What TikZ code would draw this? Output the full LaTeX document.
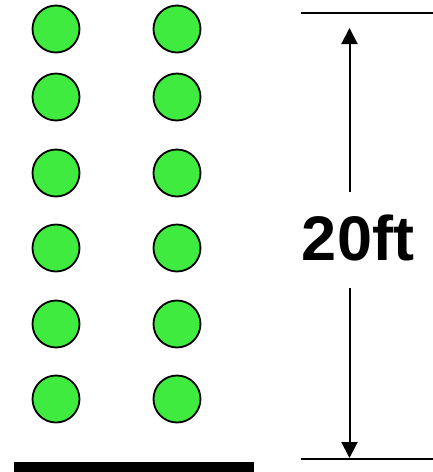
\documentclass[tikz,border=0pt]{standalone}
\usepackage{fontspec}
\setmainfont{Liberation Sans}
\usetikzlibrary{arrows.meta}
\definecolor{ballgreen}{RGB}{62,235,62}
\begin{document}
\begin{tikzpicture}[x=1pt,y=-1pt,
  ball/.style={circle,draw=black,line width=1.8pt,fill=ballgreen,minimum size=47pt,inner sep=0pt},
  dimline/.style={line width=2pt},
  dimarrow/.style={line width=2pt,-{Triangle[length=16pt,width=16pt]}},
  dimlabel/.style={font=\fontsize{63}{70}\selectfont\bfseries,inner sep=0pt}]
\useasboundingbox (0,0) rectangle (433,472);
\foreach \r/\yy in {1/29,2/97,3/173,4/248,5/324,6/399}{
  \node[ball] (L\r) at (56,\yy) {};
  \node[ball] (R\r) at (177,\yy) {};
}
\fill[black] (14,462) rectangle (254,472);
\coordinate (topL) at (301,12.5);
\coordinate (topR) at (433,12.5);
\coordinate (botL) at (301,458.5);
\coordinate (botR) at (433,458.5);
\draw[dimline] (topL) -- (topR);
\draw[dimline] (botL) -- (botR);
\node[dimlabel,anchor=base] (lbl) at (358,260) {20ft};
\coordinate (upS) at (349.5,192);
\coordinate (upE) at (349.5,28);
\coordinate (dnS) at (349.5,288);
\coordinate (dnE) at (349.5,458);
\draw[dimarrow] (upS) -- (upE);
\draw[dimarrow] (dnS) -- (dnE);
\end{tikzpicture}
\end{document}
